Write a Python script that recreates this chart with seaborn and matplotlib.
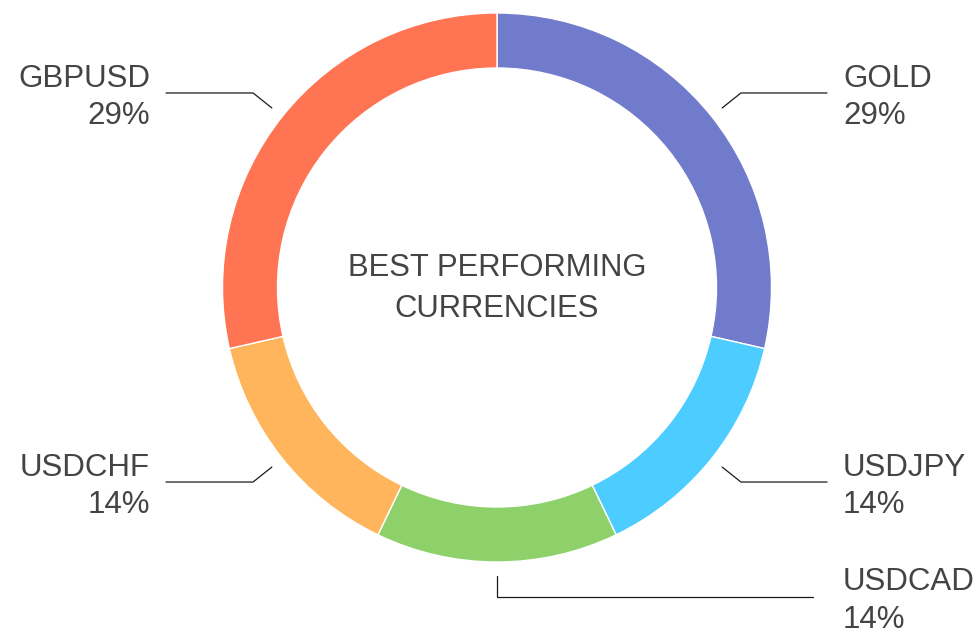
import numpy as np
import matplotlib.pyplot as plt
import seaborn as sns

# data
labels = ['GOLD', 'USDJPY', 'USDCAD', 'USDCHF', 'GBPUSD']
values = [2, 1, 1, 1, 2]
colors = ['#717bcc', '#4dcdff', '#8ed16b', '#ffb55b', '#ff7453']
center_title = 'BEST PERFORMING\nCURRENCIES'

sns.set_theme(style='white')
plt.rcParams['font.family'] = ['Liberation Sans', 'DejaVu Sans']
text_color = '#444444'

W, H = 980, 635
fig = plt.figure(figsize=(9.8, 6.35), dpi=100)
ax = fig.add_axes([0, 0, 1, 1])

# donut geometry (pixel-like units, y up)
cx, cy = 497, H - 287.5
r_out, width = 274.5, 55

wedges, _ = ax.pie(values, colors=colors, startangle=90, counterclock=False,
                   center=(cx, cy), radius=r_out, frame=True,
                   wedgeprops=dict(width=width, edgecolor='white', linewidth=1))
ax.set_xlim(0, W)
ax.set_ylim(0, H)
ax.set_aspect('equal')
ax.axis('off')

ax.text(cx, cy - 1, center_title, ha='center', va='center', fontsize=22.3,
        color=text_color, linespacing=1.5)

total = sum(values)
for w, lab, v in zip(wedges, labels, values):
    theta = np.deg2rad((w.theta1 + w.theta2) / 2)
    c, s = np.cos(theta), np.sin(theta)
    x1, y1 = cx + 288 * c, cy + 288 * s
    x2, y2 = cx + 312 * c, cy + 312 * s
    bottom = abs(c) < 0.01
    right = bottom or c > 0
    if bottom:
        x_end = 813
        y2 += 3
    else:
        x_end = 827 if right else 166
    ax.plot([x1, x2, x_end], [y1, y2, y2], color='#1a1a1a', lw=0.9,
            solid_joinstyle='miter')
    tx = 843 if right else 150
    ha = 'left' if right else 'right'
    pct = f'{round(v / total * 100)}%'
    ax.text(tx, y2 + 6, lab, ha=ha, va='baseline', fontsize=22.5, color=text_color)
    ax.text(tx, y2 - 31, pct, ha=ha, va='baseline', fontsize=22.5, color=text_color)

fig.savefig('out.png', dpi=100, facecolor='white')
